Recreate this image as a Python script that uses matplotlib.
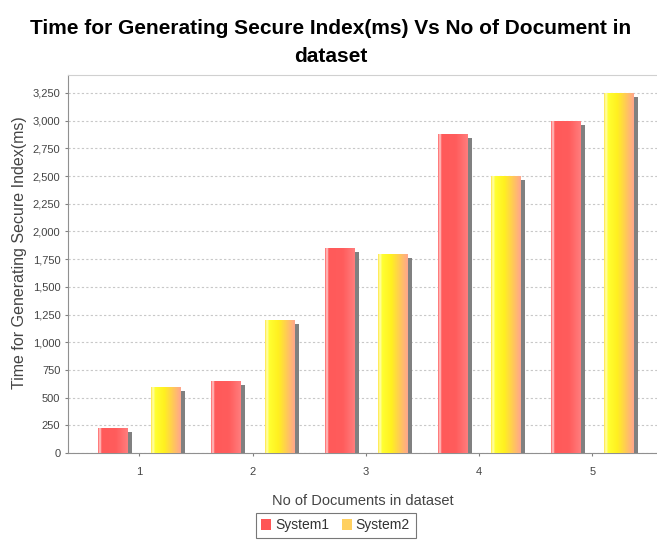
import numpy as np
import matplotlib
matplotlib.use('Agg')
import matplotlib.pyplot as plt
from matplotlib.colors import LinearSegmentedColormap
from matplotlib.patches import Patch

plt.rcParams['font.family'] = ['Liberation Sans', 'DejaVu Sans']

# Data
categories = ['1', '2', '3', '4', '5']
system1 = [230, 650, 1850, 2880, 3000]
system2 = [600, 1200, 1800, 2500, 3250]
yticks = np.arange(0, 3251, 250)

fig = plt.figure(figsize=(6.57, 5.45), dpi=100)
ax = fig.add_axes([0.1035, 0.1688, 0.8965, 0.6936])

x = np.arange(1, len(categories) + 1)
width = 0.26
offset = 0.235

red_cmap = LinearSegmentedColormap.from_list('red', [
    (0.0, '#ff6a6a'), (0.06, '#ffd0d0'), (0.12, '#ff5a5a'),
    (0.6, '#ff5c5c'), (1.0, '#ff7d7d')])
yel_cmap = LinearSegmentedColormap.from_list('yel', [
    (0.0, '#ffe84a'), (0.06, '#ffffb0'), (0.14, '#ffff30'),
    (0.45, '#fff020'), (1.0, '#ffa68c')])

grad = np.linspace(0, 1, 64).reshape(1, -1)


def draw_series(vals, pos, cmap, color):
    # shadow first
    ax.bar(pos + 0.04, np.array(vals) - 40, width, color='#808080',
           zorder=2, linewidth=0)
    bars = ax.bar(pos, vals, width, color=color, zorder=3, linewidth=0)
    for b in bars:
        x0, y0 = b.get_x(), b.get_y()
        im = ax.imshow(grad, cmap=cmap, aspect='auto', zorder=4,
                       extent=[x0, x0 + b.get_width(), y0, y0 + b.get_height()])
        im.set_clip_path(b)


draw_series(system1, x - offset, red_cmap, '#ff5555')
draw_series(system2, x + offset, yel_cmap, '#ffff55')

ax.set_xlim(0.37, 5.57)
ax.set_ylim(0, 3412)
ax.set_yticks(yticks)
ax.set_yticklabels([f'{v:,}' for v in yticks])
ax.set_xticks(x)
ax.set_xticklabels(categories)
ax.yaxis.grid(True, linestyle=(0, (2, 2)), color='#c8c8c8', linewidth=0.8)
ax.set_axisbelow(True)

for s in ['left', 'bottom']:
    ax.spines[s].set_color('#909090')
ax.spines['top'].set_color('#d0d0d0')
ax.spines['right'].set_visible(False)
ax.tick_params(axis='both', colors='#808080', labelcolor='#444444',
               labelsize=8, length=2)
ax.tick_params(axis='x', pad=8)

ax.set_ylabel('Time for Generating Secure Index(ms)', fontsize=11.5,
              color='#444444')
ax.yaxis.set_label_coords(-0.07, 0.53)
ax.set_xlabel('No of Documents in dataset', fontsize=10.5, color='#444444',
              labelpad=12)

fig.text(0.503, 0.966, 'Time for Generating Secure Index(ms) Vs No of Document in\ndataset',
         ha='center', va='top', fontsize=15, fontweight='bold',
         family=['Liberation Sans Narrow', 'Liberation Sans', 'DejaVu Sans'],
         linespacing=1.6)

handles = [Patch(facecolor='#ff5555', label='System1'),
           Patch(facecolor='#ffd060', label='System2')]
leg = fig.legend(handles=handles, loc='lower center', ncol=2,
                 bbox_to_anchor=(0.511, 0.0), frameon=True, fancybox=False,
                 fontsize=10, handlelength=0.7, handleheight=0.8,
                 handletextpad=0.3, columnspacing=0.9, borderpad=0.4,
                 labelcolor='#333333')
leg.get_frame().set_edgecolor('#555555')
leg.get_frame().set_linewidth(0.8)

fig.savefig('out.png', dpi=100)
